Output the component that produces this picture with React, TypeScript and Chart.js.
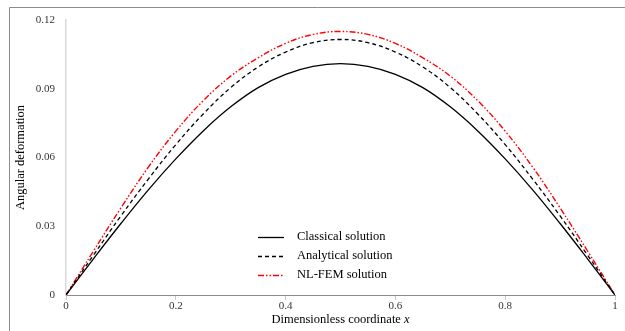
import React, { useEffect, useRef } from "react";
import { Chart, registerables } from "chart.js";

Chart.register(...registerables);

const xValues = [0, 0.05, 0.1, 0.15, 0.2, 0.25, 0.3, 0.35, 0.4, 0.45, 0.5, 0.55, 0.6, 0.65, 0.7, 0.75, 0.8, 0.85, 0.9, 0.95, 1];
const classical = [0, 0.0158, 0.0312, 0.0459, 0.0594, 0.0716, 0.0821, 0.0905, 0.0963, 0.0998, 0.101, 0.0998, 0.0963, 0.0905, 0.0821, 0.0716, 0.0594, 0.0459, 0.0312, 0.0158, 0];
const analytical = [0, 0.0174, 0.0345, 0.0506, 0.0656, 0.079, 0.0905, 0.0995, 0.106, 0.1101, 0.1115, 0.1101, 0.106, 0.0995, 0.0905, 0.079, 0.0656, 0.0506, 0.0345, 0.0174, 0];
const nlfem = [0, 0.0192, 0.038, 0.0558, 0.0715, 0.0848, 0.0955, 0.1035, 0.1098, 0.1137, 0.115, 0.1137, 0.1098, 0.1035, 0.0955, 0.0848, 0.0715, 0.0558, 0.038, 0.0192, 0];
const xTicks = [0, 0.2, 0.4, 0.6, 0.8, 1];
const yTicks = [0, 0.03, 0.06, 0.09, 0.12];
const seriesNames = ["Classical solution", "Analytical solution", "NL-FEM solution"];

const FONT = "'Liberation Serif', 'DejaVu Serif', serif";

const framePlugin = {
  id: "frame",
  afterDraw(chart: any) {
    const ctx = chart.ctx;
    ctx.save();
    ctx.strokeStyle = "#8c8c8c";
    ctx.lineWidth = 1;
    ctx.beginPath();
    ctx.moveTo(9.5, 331);
    ctx.lineTo(9.5, 7.5);
    ctx.lineTo(625, 7.5);
    ctx.stroke();
    ctx.restore();
  },
};

const legendPlugin = {
  id: "insideLegend",
  afterDatasetsDraw(chart: any) {
    const ctx = chart.ctx;
    const area = chart.chartArea;
    const x0 = area.left + 192;
    const y0 = area.top + 217;
    ctx.save();
    chart.data.datasets.forEach((ds: any, i: number) => {
      const y = y0 + i * 19;
      ctx.beginPath();
      ctx.strokeStyle = ds.borderColor;
      ctx.lineWidth = ds.borderWidth;
      ctx.setLineDash(ds.borderDash || []);
      ctx.moveTo(x0, y + 0.5);
      ctx.lineTo(x0 + 26, y + 0.5);
      ctx.stroke();
      ctx.setLineDash([]);
      ctx.fillStyle = "#000";
      ctx.font = `12.5px ${FONT}`;
      ctx.textBaseline = "middle";
      ctx.textAlign = "left";
      ctx.fillText(ds.label, x0 + 39, y);
    });
    ctx.restore();
  },
};

const xTitlePlugin = {
  id: "xTitle",
  afterDraw(chart: any) {
    const ctx = chart.ctx;
    const area = chart.chartArea;
    const main = "Dimensionless coordinate ";
    const ital = "x";
    ctx.save();
    ctx.font = `12.5px ${FONT}`;
    const w1 = ctx.measureText(main).width;
    ctx.font = `italic 12.5px ${FONT}`;
    const w2 = ctx.measureText(ital).width;
    const cx = (area.left + area.right) / 2;
    const start = cx - (w1 + w2) / 2;
    const y = 320;
    ctx.fillStyle = "#000";
    ctx.textBaseline = "middle";
    ctx.textAlign = "left";
    ctx.font = `12.5px ${FONT}`;
    ctx.fillText(main, start, y);
    ctx.font = `italic 12.5px ${FONT}`;
    ctx.fillText(ital, start + w1, y);
    ctx.restore();
  },
};

export default function App() {
  const ref = useRef<HTMLCanvasElement | null>(null);
  useEffect(() => {
    if (!ref.current) return;
    const toPts = (arr: number[]) => xValues.map((x, i) => ({ x, y: arr[i] }));
    const chart = new Chart(ref.current, {
      type: "line",
      data: {
        datasets: [
          { label: seriesNames[0], data: toPts(classical), borderColor: "#000000", borderWidth: 1.3, borderDash: [], pointRadius: 0, tension: 0.4, fill: false },
          { label: seriesNames[1], data: toPts(analytical), borderColor: "#000000", borderWidth: 1.3, borderDash: [4, 3], pointRadius: 0, tension: 0.4, fill: false },
          { label: seriesNames[2], data: toPts(nlfem), borderColor: "#ff0000", borderWidth: 1.4, borderDash: [6, 2, 1.5, 2, 1.5, 2], pointRadius: 0, tension: 0.4, fill: false },
        ],
      },
      options: {
        animation: false,
        responsive: false,
        maintainAspectRatio: false,
        layout: { padding: { left: 9, top: 20, right: 10, bottom: 0 } },
        plugins: { legend: { display: false }, tooltip: { enabled: false } },
        scales: {
          x: {
            type: "linear",
            min: 0,
            max: 1,
            afterBuildTicks: (s: any) => { s.ticks = xTicks.map((v) => ({ value: v })); },
            afterFit: (s: any) => { s.height = 36; },
            grid: { drawOnChartArea: false, drawTicks: true, tickLength: 5, color: "#c8c8c8" },
            border: { color: "#8a8a8a", width: 1 },
            ticks: { color: "#333", font: { family: FONT, size: 11 }, padding: 0, maxRotation: 0, callback: (v: any) => String(v) },
          },
          y: {
            type: "linear",
            min: 0,
            max: 0.12,
            afterBuildTicks: (s: any) => { s.ticks = yTicks.map((v) => ({ value: v })); },
            afterFit: (s: any) => { s.width = 57; },
            grid: { drawOnChartArea: false, drawTicks: false },
            border: { color: "#d9d9d9", width: 1.5 },
            ticks: { color: "#333", font: { family: FONT, size: 11 }, padding: 11, callback: (v: any) => String(v) },
            title: { display: true, text: "Angular deformation", color: "#000", font: { family: FONT, size: 12.5 }, padding: { top: 4, bottom: 0 } },
          },
        },
      },
      plugins: [framePlugin, legendPlugin, xTitlePlugin],
    });
    return () => chart.destroy();
  }, []);
  return (
    <div style={{ position: "fixed", left: 0, top: 0, width: 625, height: 331, background: "#fff" }}>
      <canvas ref={ref} width={625} height={331} style={{ width: 625, height: 331 }} />
    </div>
  );
}
